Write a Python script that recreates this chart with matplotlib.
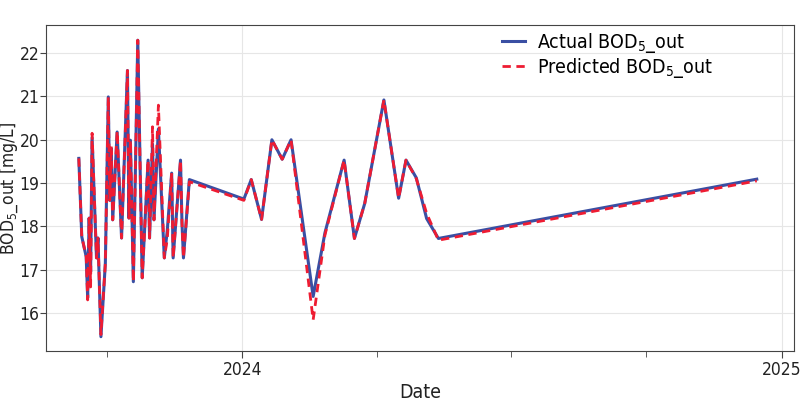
import matplotlib
matplotlib.use("Agg")
import matplotlib.pyplot as plt
import matplotlib.dates as mdates
import numpy as np
import pandas as pd

plt.rcParams['font.family'] = ['DejaVu Sans']
plt.rcParams['font.stretch'] = 'condensed'

dates = pd.to_datetime([
    "2023-09-12", "2023-09-14", "2023-09-17", "2023-09-18", "2023-09-19",
    "2023-09-20", "2023-09-21", "2023-09-24", "2023-09-25", "2023-09-27",
    "2023-09-30", "2023-10-02", "2023-10-03", "2023-10-04", "2023-10-05",
    "2023-10-08", "2023-10-11", "2023-10-15", "2023-10-16", "2023-10-17",
    "2023-10-19", "2023-10-22", "2023-10-25", "2023-10-29", "2023-10-30",
    "2023-11-01", "2023-11-02", "2023-11-05", "2023-11-09", "2023-11-11",
    "2023-11-14", "2023-11-15", "2023-11-20", "2023-11-21", "2023-11-22",
    "2023-11-26", "2024-01-02", "2024-01-07", "2024-01-14", "2024-01-21",
    "2024-01-28", "2024-02-03", "2024-02-18", "2024-02-26", "2024-03-10",
    "2024-03-17", "2024-03-24", "2024-04-06", "2024-04-16", "2024-04-21",
    "2024-04-28", "2024-05-05", "2024-05-13", "2024-12-15",
])

actual = [
    19.57, 17.76, 17.30, 16.35, 18.19,
    16.95, 20.05, 17.27, 17.73, 15.45,
    17.15, 20.99, 18.60, 19.80, 18.15,
    20.18, 17.73, 21.60, 18.19, 19.99,
    16.72, 22.30, 16.81, 19.53, 17.73,
    19.90, 18.15, 20.25, 17.27, 17.90,
    19.23, 17.27, 19.53, 18.08, 17.27,
    19.08, 18.63, 19.08, 18.16, 20.00,
    19.55, 20.00, 16.38, 17.85, 19.53,
    17.72, 18.53, 20.92, 18.65, 19.53,
    19.12, 18.18, 17.72, 19.09,
]

predicted = [
    19.57, 17.76, 17.30, 16.30, 18.19,
    16.60, 20.15, 17.27, 17.73, 15.50,
    17.15, 20.99, 18.60, 19.85, 18.15,
    20.20, 17.73, 21.60, 18.19, 19.99,
    16.72, 22.30, 16.81, 19.53, 17.73,
    20.30, 18.15, 20.80, 17.27, 17.70,
    19.23, 17.27, 19.53, 18.08, 17.27,
    19.03, 18.60, 19.08, 18.16, 20.00,
    19.55, 20.00, 15.84, 17.80, 19.53,
    17.72, 18.53, 20.92, 18.65, 19.53,
    19.10, 18.30, 17.68, 19.05,
]

fig = plt.figure(figsize=(8, 4.11), dpi=100)
ax = fig.add_axes([0.058, 0.146, 0.934, 0.793])

ax.plot(dates, actual, color="#3a4fa3", lw=2.2, label="Actual BOD$_5$_out")
ax.plot(dates, predicted, color="#ee1c32", lw=2.0, ls=(0, (3, 2)),
        label="Predicted BOD$_5$_out")

ax.set_xlim(pd.Timestamp("2023-08-21"), pd.Timestamp("2025-01-09"))
ax.set_ylim(15.12, 22.65)
ax.set_yticks(range(16, 23))
ax.xaxis.set_major_locator(mdates.YearLocator())
ax.xaxis.set_major_formatter(mdates.DateFormatter("%Y"))
ax.xaxis.set_minor_locator(mdates.MonthLocator(bymonth=[1, 4, 7, 10]))

ax.grid(True, which="major", color="#e6e6e6", lw=0.8)
ax.set_axisbelow(True)
for s in ax.spines.values():
    s.set_color("#444444")
ax.tick_params(axis="both", which="major", labelsize=12.5, color="#444444", length=5,
               labelcolor="#222222")
ax.tick_params(axis="y", which="major", pad=1, length=4)
ax.tick_params(axis="x", which="major", pad=2)
ax.tick_params(axis="x", which="minor", color="#444444", length=4)

ax.set_xlabel("Date", fontsize=14, color="#222222", labelpad=3)
ax.set_ylabel("BOD$_5$_out [mg/L]", fontsize=12.5, color="#222222")
ax.yaxis.set_label_coords(-0.036, 0.5)
ax.legend(loc="upper right", frameon=False, fontsize=14, bbox_to_anchor=(0.915, 1.035),
          handlelength=1.2, handletextpad=0.6, labelspacing=0.05)

fig.savefig("out.png", dpi=100)
